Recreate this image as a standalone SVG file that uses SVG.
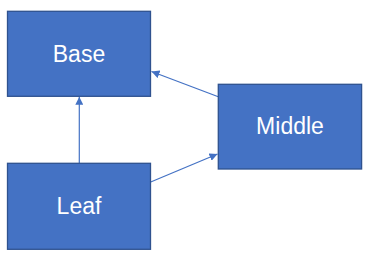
<svg xmlns="http://www.w3.org/2000/svg" width="369" height="258" viewBox="0 0 369 258">
<style>
.box{fill:#4472C4;stroke:#2F528F;stroke-width:1.3}
.lbl{fill:#fff;font-family:"Liberation Sans",Arial,sans-serif;font-size:23px;text-anchor:middle}
.edge{stroke:#4472C4;stroke-width:1.2;fill:none;marker-end:url(#ah)}
</style>
<defs>
<marker id="ah" viewBox="0 0 10 10" refX="10" refY="5" markerWidth="8" markerHeight="8" markerUnits="userSpaceOnUse" orient="auto">
<path d="M0,0 L10,5 L0,10 z" fill="#4472C4"/>
</marker>
</defs>
<rect width="369" height="258" fill="#fff"/>
<g id="connectors">
<line class="edge" x1="79.3" y1="163.3" x2="79.3" y2="96.8"/>
<line class="edge" x1="218.3" y1="96.7" x2="151.5" y2="71.5"/>
<line class="edge" x1="150.7" y1="182" x2="217.5" y2="154"/>
</g>
<g id="base">
<rect class="box" x="7.5" y="11.3" width="143" height="85"/>
<text class="lbl" x="79" y="62.3">Base</text>
</g>
<g id="middle">
<rect class="box" x="218.3" y="84.3" width="143.3" height="84.7"/>
<text class="lbl" x="290" y="134.2">Middle</text>
</g>
<g id="leaf">
<rect class="box" x="7.5" y="163.3" width="143" height="86"/>
<text class="lbl" x="79" y="214">Leaf</text>
</g>
</svg>
